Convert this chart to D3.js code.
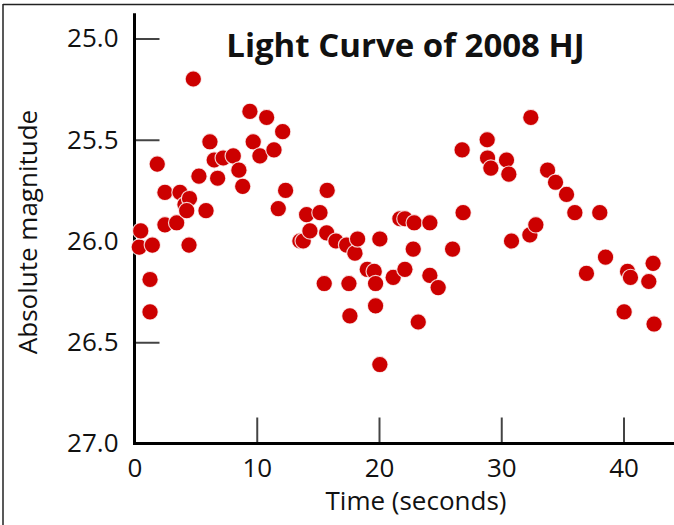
<!DOCTYPE html>
<html>
<head>
<meta charset="utf-8">
<script src="https://cdn.jsdelivr.net/npm/d3@7"></script>
<style>
    body { margin: 0; background: #fff; }
    text { font-family: "Open Sans", "Noto Sans", sans-serif; fill: #111; }
</style>
</head>
<body>
<div id="chart"></div>
<script>
let times = [0.39, 0.51, 1.27, 1.27, 1.46, 1.86, 2.49, 2.49, 3.45, 3.72,
    4.13, 4.5, 4.27, 4.46, 4.81, 5.27, 5.85, 6.17, 6.52, 6.80,
    7.26, 8.08, 8.54, 8.85, 9.44, 9.71, 10.26, 10.81, 11.41, 11.76,
    12.12, 12.36, 13.53, 13.80, 14.08, 14.35, 15.17, 15.52, 15.72, 15.76,
    16.48, 17.35, 17.54, 17.62, 18.03, 18.25, 19.04, 19.61, 19.72, 19.72,
    20.07, 20.07, 21.16, 21.71, 22.12, 22.12, 22.80, 22.88, 23.21, 24.16,
    24.16, 24.84, 26.02, 26.80, 26.88, 28.85, 28.88, 29.15, 30.43, 30.62,
    30.84, 32.34, 32.42, 32.83, 33.79, 34.44, 35.34, 36.02, 36.97, 38.06,
    38.53, 40.05, 40.33, 40.57, 42.07, 42.42, 42.50];
let magnitudes = [26.03, 25.95, 26.19, 26.35, 26.02, 25.62, 25.76, 25.92, 25.91, 25.76,
    25.82, 25.79, 25.85, 26.02, 25.20, 25.68, 25.85, 25.51, 25.60, 25.69,
    25.59, 25.58, 25.65, 25.73, 25.36, 25.51, 25.58, 25.39, 25.55, 25.84,
    25.46, 25.75, 26.00, 26.00, 25.87, 25.95, 25.86, 26.21, 25.96, 25.75,
    26.00, 26.02, 26.21, 26.37, 26.06, 25.99, 26.14, 26.15, 26.21, 26.32,
    25.99, 26.61, 26.18, 25.89, 25.89, 26.14, 26.04, 25.91, 26.40, 25.91,
    26.17, 26.23, 26.04, 25.55, 25.86, 25.50, 25.59, 25.64, 25.60, 25.67,
    26.00, 25.97, 25.39, 25.92, 25.65, 25.71, 25.77, 25.86, 26.16, 25.86,
    26.08, 26.35, 26.15, 26.18, 26.20, 26.11, 26.41];

let xTicks = [0, 10, 20, 30, 40];
let yTicks = [25.0, 25.5, 26.0, 26.5, 27.0];

let width = 674, height = 525;

let svg = d3.select("#chart")
    .append("svg")
    .attr("width", width)
    .attr("height", height);

// frame lines at top and left
svg.append("line")
    .attr("x1", 3).attr("y1", 4.5).attr("x2", width).attr("y2", 4.5)
    .style("stroke", "#222").style("stroke-width", 1.5);
svg.append("line")
    .attr("x1", 3).attr("y1", 4).attr("x2", 3).attr("y2", height)
    .style("stroke", "#222").style("stroke-width", 1.5);

let x = d3.scaleLinear()
    .domain([0, 40])
    .range([134.5, 623.5]);

let y = d3.scaleLinear()
    .domain([25, 27])
    .range([38.5, 443.5]);

// axes (ticks point into the plot)
let xAxis = svg.append("g")
    .attr("class", "x-axis axis")
    .attr("transform", "translate(0," + y(27) + ")")
    .call(d3.axisBottom(x)
        .tickValues(xTicks)
        .tickSizeInner(-26)
        .tickSizeOuter(0)
        .tickPadding(15)
        .tickFormat(d3.format("d")));

let yAxis = svg.append("g")
    .attr("class", "y-axis axis")
    .attr("transform", "translate(" + x(0) + ",0)")
    .call(d3.axisLeft(y)
        .tickValues(yTicks)
        .tickSizeInner(-25)
        .tickSizeOuter(0)
        .tickPadding(16)
        .tickFormat(d3.format(".1f")));

svg.selectAll(".axis .domain").remove();
svg.selectAll(".axis .tick line")
    .style("stroke", "#444")
    .style("stroke-width", 2);
svg.selectAll(".axis .tick text")
    .style("font-size", "26px")
    .style("fill", "#111");

// main axis lines
svg.append("line")
    .attr("x1", x(0)).attr("y1", y(24.875))
    .attr("x2", x(0)).attr("y2", y(27) + 1.5)
    .style("stroke", "#000").style("stroke-width", 3);
svg.append("line")
    .attr("x1", x(0) - 1.5).attr("y1", y(27))
    .attr("x2", width).attr("y2", y(27))
    .style("stroke", "#000").style("stroke-width", 3);

// points
svg.selectAll(".dot")
    .data(times)
    .enter().append("circle")
    .attr("class", "dot")
    .attr("cx", function(d) { return x(d); })
    .attr("cy", function(d, i) { return y(magnitudes[i]); })
    .attr("r", 8.2)
    .style("fill", "#cc0000")
    .style("stroke", "#fff")
    .style("stroke-opacity", 0.8)
    .style("stroke-width", 1.2);

// titles
svg.append("text")
    .attr("x", 405.5)
    .attr("y", 57)
    .attr("text-anchor", "middle")
    .style("font-size", "33px")
    .style("font-weight", "bold")
    .text("Light Curve of 2008 HJ");

svg.append("text")
    .attr("x", 416)
    .attr("y", 510)
    .attr("text-anchor", "middle")
    .style("font-size", "26px")
    .text("Time (seconds)");

svg.append("text")
    .attr("transform", "translate(37,232) rotate(-90)")
    .attr("text-anchor", "middle")
    .style("font-size", "26px")
    .text("Absolute magnitude");
</script>
</body>
</html>
